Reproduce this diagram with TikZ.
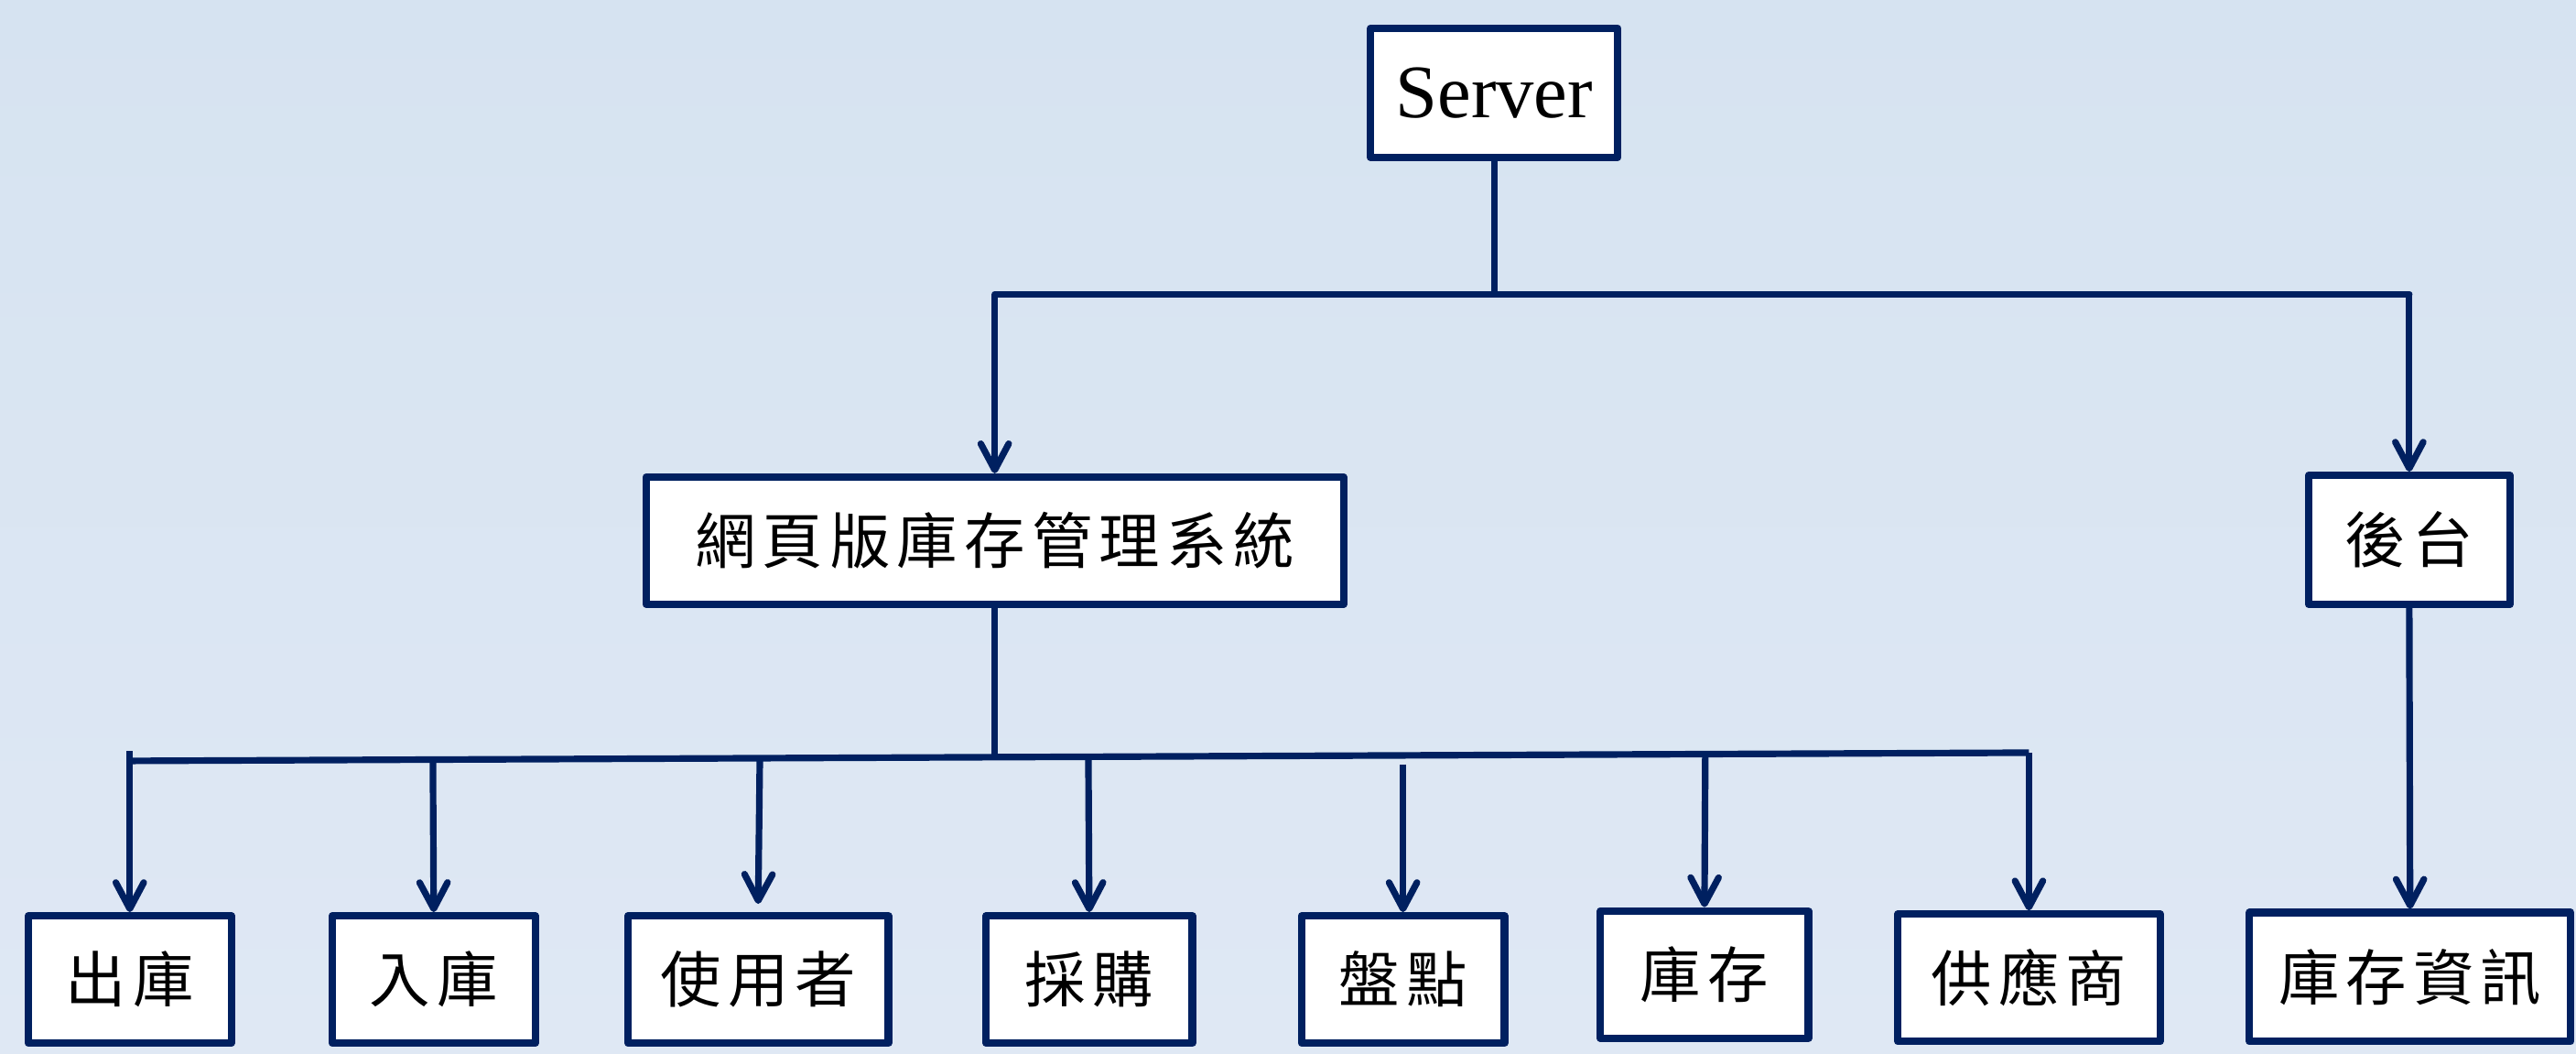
\documentclass[tikz,border=0pt]{standalone}
\usepackage{fontspec}
\setmainfont{Liberation Serif}
\newfontfamily\cjk{Noto Sans CJK TC}
\usetikzlibrary{arrows.meta}
\definecolor{navy}{RGB}{0,32,96}
\definecolor{bgtop}{RGB}{214,227,241}
\definecolor{bgbot}{RGB}{223,232,244}
\newcommand\gp{\hspace{4pt}}
\begin{document}
\begin{tikzpicture}[x=1pt,y=-1pt,
  box/.style={draw=navy,line width=4.5pt,fill=white,inner sep=0pt,line join=round,
    font=\cjk\fontsize{37}{40}\selectfont},
  link/.style={draw=navy,line width=4pt},
  arr/.style={link,-{Straight Barb[length=16pt,width=17pt,round]}}]
\shade[top color=bgtop,bottom color=bgbot] (0,0) rectangle (1568,640.8);
\useasboundingbox (0,0) rectangle (1568,640.8);
% top level
\node[box,minimum width=150.5pt,minimum height=78.5pt,font=\fontsize{46}{50}\selectfont] (server) at (909.5,56.5) {Server};
\node[box,minimum width=424.5pt,minimum height=77.5pt] (sys) at (605.5,329) {網\gp 頁\gp 版\gp 庫\gp 存\gp 管\gp 理\gp 系\gp 統};
\node[box,minimum width=122.5pt,minimum height=78.5pt] (back) at (1466.5,328.5) {後\gp 台};
% bottom level
\node[box,minimum width=123.5pt,minimum height=77.5pt] (b1) at (79,596) {出\gp 庫};
\node[box,minimum width=123.5pt,minimum height=77.5pt] (b2) at (264,596) {入\gp 庫};
\node[box,minimum width=158.5pt,minimum height=77.5pt] (b3) at (461.5,596) {使\gp 用\gp 者};
\node[box,minimum width=125.5pt,minimum height=77.5pt] (b4) at (663,596) {採\gp 購};
\node[box,minimum width=123.5pt,minimum height=77.5pt] (b5) at (854,596) {盤\gp 點};
\node[box,minimum width=126.5pt,minimum height=77.5pt] (b6) at (1037.5,593) {庫\gp 存};
\node[box,minimum width=159.5pt,minimum height=77.5pt] (b7) at (1235,595) {供\gp 應\gp 商};
\node[box,minimum width=195.5pt,minimum height=78.5pt] (b8) at (1467,594.5) {庫\gp 存\gp 資\gp 訊};
% upper connectors
\coordinate (t1) at (605.5,179);
\coordinate (t2) at (1466.5,179);
\draw[link] (server.south) -- (server.south |- t1);
\draw[link,line cap=round] (t1) -- (t2);
\draw[arr] (t1) -- (sys.north);
\draw[arr] (t2) -- (back.north);
\draw[arr] (back.south) -- (b8.north);
% lower connectors
\coordinate (h1) at (79,463);
\coordinate (h2) at (1235,458);
\coordinate (hs) at (605.5,460.6);
\draw[link] (sys.south) -- (hs);
\draw[link] (h1) -- (h2);
\coordinate (d1) at (79,457);
\coordinate (d2) at (263.5,462.2);
\coordinate (d3) at (462,461.3);
\coordinate (d4) at (662.5,460.5);
\coordinate (d5) at (854,465);
\coordinate (d6) at (1038,459);
\coordinate (d7) at (1235,458);
\draw[arr] (d1) -- (b1.north);
\draw[arr] (d2) -- (b2.north);
\draw[arr] ([xshift=0.5pt]d3) -- ([yshift=5pt]b3.north);
\draw[arr] (d4) -- (b4.north);
\draw[arr] (d5) -- (b5.north);
\draw[arr] (d6) -- (b6.north);
\draw[arr] (d7) -- (b7.north);
\end{tikzpicture}
\end{document}
